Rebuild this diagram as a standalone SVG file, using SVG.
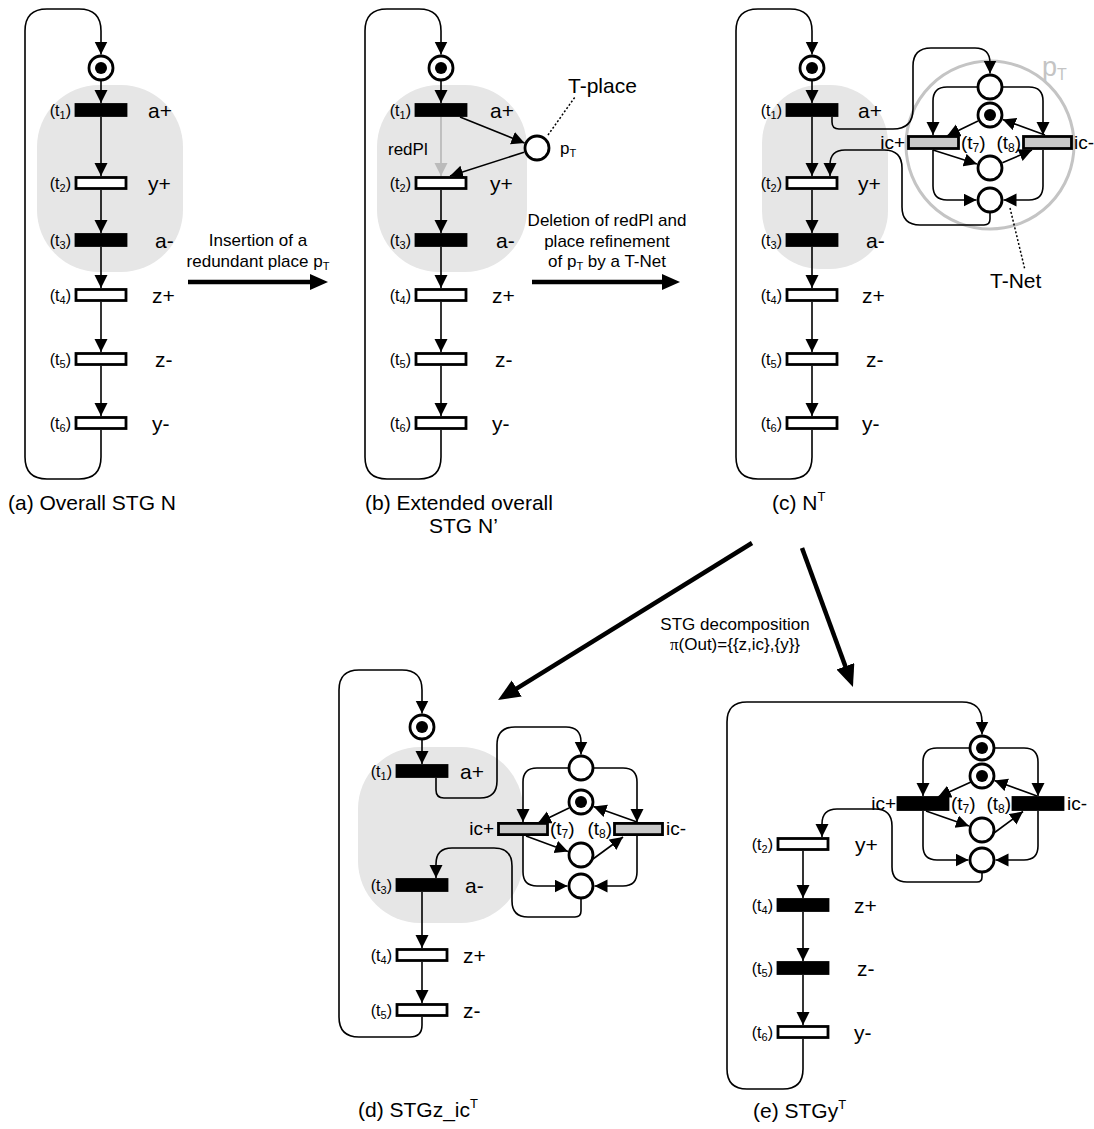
<svg xmlns="http://www.w3.org/2000/svg" width="1094" height="1129" viewBox="0 0 1094 1129">
  <style>
    text { font-family: "Liberation Sans", Arial, sans-serif; fill: #000; }
    .sig { font-size: 21px; }
    .tl { font-size: 16px; }
    .tn { font-size: 19px; }
    .sub { font-size: 11px; }
    .subn { font-size: 12px; }
    .note { font-size: 17px; }
    .cap { font-size: 21px; }
    .blob { fill: #e6e6e6; }
    .arc { fill: none; stroke: #000; stroke-width: 1.6; marker-end: url(#ah); }
    .loop { fill: none; stroke: #000; stroke-width: 1.6; }
    .red { fill: none; stroke: #bbb; stroke-width: 1.8; marker-end: url(#ahg); }
    .dot { fill: none; stroke: #000; stroke-width: 1.5; stroke-dasharray: 2 2; }
    .big { fill: none; stroke: #000; stroke-width: 4.5; marker-end: url(#bh); }
    .big2 { fill: none; stroke: #000; stroke-width: 4.5; marker-end: url(#bh2); }
    .pl { fill: #fff; stroke: #000; stroke-width: 2.8; }
    .tok { fill: #000; }
    .tw { fill: #fff; stroke: #000; stroke-width: 2.8; }
    .tb { fill: #000; stroke: #000; stroke-width: 2.8; }
    .tg { fill: #c8c8c8; stroke: #000; stroke-width: 2.8; }
  </style>
  <defs>
    <marker id="ah" markerUnits="userSpaceOnUse" markerWidth="14" markerHeight="14" refX="13" refY="6.5" orient="auto">
      <path d="M0,0 L13,6.5 L0,13 Z" fill="#000"/>
    </marker>
    <marker id="ahg" markerUnits="userSpaceOnUse" markerWidth="14" markerHeight="14" refX="13" refY="6.5" orient="auto">
      <path d="M0,0 L13,6.5 L0,13 Z" fill="#bbb"/>
    </marker>
    <marker id="bh" markerUnits="userSpaceOnUse" markerWidth="20" markerHeight="18" refX="4" refY="8" orient="auto">
      <path d="M0,0 L18,8 L0,16 Z" fill="#000"/>
    </marker>
    <marker id="bh2" markerUnits="userSpaceOnUse" markerWidth="24" markerHeight="20" refX="5" refY="9.5" orient="auto">
      <path d="M0,0 L22,9.5 L0,19 Z" fill="#000"/>
    </marker>
  </defs>

  <!-- shaded regions behind the a+/a- parts -->
  <g id="regions">
    <rect class="blob" x="37" y="85" width="146" height="187" rx="62"/>
    <rect class="blob" x="377" y="85" width="150" height="187" rx="62"/>
    <rect class="blob" x="762" y="85" width="126" height="184" rx="58"/>
    <rect class="blob" x="358" y="747" width="165" height="176" rx="62"/>
    <circle cx="990" cy="145" r="84" fill="none" stroke="#c4c4c4" stroke-width="3"/>
    <text x="1042" y="76" font-size="27" style="fill:#c4c4c4">p<tspan font-size="16" dy="4" style="fill:#c4c4c4">T</tspan></text>
  </g>

  <g id="connectors">
    <!-- (a) -->
    <path class="loop" d="M101,430 V457 Q101,479 79,479 H47 Q25,479 25,457 V31 Q25,9 47,9 H79 Q101,9 101,31 V40"/>
    <path class="arc" d="M101,40 V54.5"/>
    <path class="arc" d="M101,81 V103"/>
    <path class="arc" d="M101,117 V176"/>
    <path class="arc" d="M101,190 V233"/>
    <path class="arc" d="M101,247 V288"/>
    <path class="arc" d="M101,302 V352"/>
    <path class="arc" d="M101,366 V416"/>

    <!-- (b) -->
    <path class="loop" d="M441,430 V457 Q441,479 419,479 H387 Q365,479 365,457 V31 Q365,9 387,9 H419 Q441,9 441,31 V40"/>
    <path class="arc" d="M441,40 V54.5"/>
    <path class="arc" d="M441,81 V103"/>
    <path class="red" d="M441,117 V176"/>
    <path class="arc" d="M460,117 L524.5,143"/>
    <path class="arc" d="M524,152.3 L450,176"/>
    <path class="arc" d="M441,190 V233"/>
    <path class="arc" d="M441,247 V288"/>
    <path class="arc" d="M441,302 V352"/>
    <path class="arc" d="M441,366 V416"/>
    <path class="dot" d="M548,135 L575,97"/>

    <!-- (c) -->
    <path class="loop" d="M812,430 V457 Q812,479 790,479 H758 Q736,479 736,457 V31 Q736,9 758,9 H790 Q812,9 812,31 V40"/>
    <path class="arc" d="M812,40 V54.5"/>
    <path class="arc" d="M812,81 V103"/>
    <path class="arc" d="M812,117 V176"/>
    <path class="arc" d="M812,190 V233"/>
    <path class="arc" d="M812,247 V288"/>
    <path class="arc" d="M812,302 V352"/>
    <path class="arc" d="M812,366 V416"/>
    <path class="arc" d="M832,117 V122 Q832,129 839,129 H893 Q913,129 913,109 V66 Q913,48 931,48 H975 Q990,48 990,63 V73.5"/>
    <path class="arc" d="M990,212 V219 Q990,225 984,225 H920 Q902,225 902,207 V168 Q902,150 884,150 H845 Q830,150 830,165 V176"/>
    <path class="arc" d="M978,87 H947 Q933,87 933,101 V135"/>
    <path class="arc" d="M1002,87 H1029 Q1043,87 1043,101 V135"/>
    <path class="arc" d="M933,150 V186 Q933,200 947,200 H976.5"/>
    <path class="arc" d="M1043,150 V186 Q1043,200 1029,200 H1003.5"/>
    <path class="arc" d="M978,121 L947,136"/>
    <path class="arc" d="M1045,135 L1002.7,119.6"/>
    <path class="arc" d="M933,150 L977,164"/>
    <path class="arc" d="M1002.4,162.7 L1032,150"/>
    <path class="dot" d="M1010,208 L1025,270"/>

    <!-- (d) -->
    <path class="loop" d="M422,1017 V1025 Q422,1037 410,1037 H359 Q339,1037 339,1017 V690 Q339,670 359,670 H402 Q422,670 422,690 V698"/>
    <path class="arc" d="M422,698 V713.5"/>
    <path class="arc" d="M422,740 V764"/>
    <path class="arc" d="M422,892 V948"/>
    <path class="arc" d="M422,962 V1003"/>
    <path class="arc" d="M436,778 V790 Q436,798 444,798 H480 Q497,798 497,781 V745 Q497,727 515,727 H566 Q581,727 581,742 V754.5"/>
    <path class="arc" d="M581,898 V911 Q581,917 575,917 H528 Q512,917 512,901 V866 Q512,848 494,848 H452 Q436,848 436,864 V878"/>
    <path class="arc" d="M569,768 H537 Q523,768 523,782 V822"/>
    <path class="arc" d="M593,768 H623 Q637,768 637,782 V822"/>
    <path class="arc" d="M523,836 V872 Q523,886 537,886 H567.5"/>
    <path class="arc" d="M637,836 V872 Q637,886 623,886 H594.5"/>
    <path class="arc" d="M569,808 L538,823"/>
    <path class="arc" d="M637,822 L593.5,806.5"/>
    <path class="arc" d="M526,836 L568,851.5"/>
    <path class="arc" d="M593,859 L623,837"/>

    <!-- (e) -->
    <path class="loop" d="M803,1039 V1069 Q803,1089 783,1089 H747 Q727,1089 727,1069 V722 Q727,702 747,702 H962 Q982,702 982,722"/>
    <path class="arc" d="M982,720 V734.5"/>
    <path class="arc" d="M803,851 V898"/>
    <path class="arc" d="M803,912 V961"/>
    <path class="arc" d="M803,975 V1025"/>
    <path class="arc" d="M982,872 V877 Q982,882 977,882 H907 Q892,882 892,867 V826 Q892,809 875,809 H837 Q822,809 822,824 V837"/>
    <path class="arc" d="M970,748 H937 Q923,748 923,762 V796"/>
    <path class="arc" d="M994,748 H1024 Q1038,748 1038,762 V796"/>
    <path class="arc" d="M923,811 V846 Q923,860 937,860 H968.5"/>
    <path class="arc" d="M1038,811 V846 Q1038,860 1024,860 H995.5"/>
    <path class="arc" d="M971,782 L938,797"/>
    <path class="arc" d="M1037,796 L994.5,780.5"/>
    <path class="arc" d="M926,811 L969,826"/>
    <path class="arc" d="M994,833 L1023,811.5"/>

    <!-- transformation arrows -->
    <path class="big" d="M188,282 H314"/>
    <path class="big" d="M532,282 H666"/>
    <path class="big2" d="M752,543 L512.5,691.1"/>
    <path class="big2" d="M802,548 L847.1,671"/>
  </g>

  <!-- (a) overall STG -->
  <g id="a-p0"><circle class="pl" cx="101" cy="68" r="12"/><circle class="tok" cx="101" cy="68" r="6"/></g>
  <g id="a-t1"><rect class="tb" x="76" y="104.5" width="50" height="11"/><text class="tl" x="71" y="116" text-anchor="end">(t<tspan class="sub" dy="3">1</tspan><tspan dy="-3">)</tspan></text><text class="sig" x="148" y="117.5">a+</text></g>
  <g id="a-t2"><rect class="tw" x="76" y="177.5" width="50" height="11"/><text class="tl" x="71" y="189" text-anchor="end">(t<tspan class="sub" dy="3">2</tspan><tspan dy="-3">)</tspan></text><text class="sig" x="148" y="190.5">y+</text></g>
  <g id="a-t3"><rect class="tb" x="76" y="234.5" width="50" height="11"/><text class="tl" x="71" y="246" text-anchor="end">(t<tspan class="sub" dy="3">3</tspan><tspan dy="-3">)</tspan></text><text class="sig" x="155" y="247.5">a-</text></g>
  <g id="a-t4"><rect class="tw" x="76" y="289.5" width="50" height="11"/><text class="tl" x="71" y="301" text-anchor="end">(t<tspan class="sub" dy="3">4</tspan><tspan dy="-3">)</tspan></text><text class="sig" x="152" y="302.5">z+</text></g>
  <g id="a-t5"><rect class="tw" x="76" y="353.5" width="50" height="11"/><text class="tl" x="71" y="365" text-anchor="end">(t<tspan class="sub" dy="3">5</tspan><tspan dy="-3">)</tspan></text><text class="sig" x="155" y="366.5">z-</text></g>
  <g id="a-t6"><rect class="tw" x="76" y="417.5" width="50" height="11"/><text class="tl" x="71" y="429" text-anchor="end">(t<tspan class="sub" dy="3">6</tspan><tspan dy="-3">)</tspan></text><text class="sig" x="152" y="430.5">y-</text></g>
  <text class="cap" x="8" y="510">(a) Overall STG N</text>

  <!-- (b) extended STG with redundant place -->
  <g id="b-p0"><circle class="pl" cx="441" cy="68" r="12"/><circle class="tok" cx="441" cy="68" r="6"/></g>
  <g id="b-t1"><rect class="tb" x="416" y="104.5" width="50" height="11"/><text class="tl" x="411" y="116" text-anchor="end">(t<tspan class="sub" dy="3">1</tspan><tspan dy="-3">)</tspan></text><text class="sig" x="490" y="117.5">a+</text></g>
  <g id="b-t2"><rect class="tw" x="416" y="177.5" width="50" height="11"/><text class="tl" x="411" y="189" text-anchor="end">(t<tspan class="sub" dy="3">2</tspan><tspan dy="-3">)</tspan></text><text class="sig" x="490" y="190.5">y+</text></g>
  <g id="b-t3"><rect class="tb" x="416" y="234.5" width="50" height="11"/><text class="tl" x="411" y="246" text-anchor="end">(t<tspan class="sub" dy="3">3</tspan><tspan dy="-3">)</tspan></text><text class="sig" x="496" y="247.5">a-</text></g>
  <g id="b-t4"><rect class="tw" x="416" y="289.5" width="50" height="11"/><text class="tl" x="411" y="301" text-anchor="end">(t<tspan class="sub" dy="3">4</tspan><tspan dy="-3">)</tspan></text><text class="sig" x="492" y="302.5">z+</text></g>
  <g id="b-t5"><rect class="tw" x="416" y="353.5" width="50" height="11"/><text class="tl" x="411" y="365" text-anchor="end">(t<tspan class="sub" dy="3">5</tspan><tspan dy="-3">)</tspan></text><text class="sig" x="495" y="366.5">z-</text></g>
  <g id="b-t6"><rect class="tw" x="416" y="417.5" width="50" height="11"/><text class="tl" x="411" y="429" text-anchor="end">(t<tspan class="sub" dy="3">6</tspan><tspan dy="-3">)</tspan></text><text class="sig" x="492" y="430.5">y-</text></g>
  <g id="b-pT"><circle class="pl" cx="537" cy="148" r="12"/><text class="note" x="560" y="154">p<tspan class="sub" dy="3">T</tspan></text></g>
  <text class="note" x="388" y="155">redPl</text>
  <text class="sig" x="568" y="93">T-place</text>
  <text class="cap" x="365" y="510">(b) Extended overall</text>
  <text class="cap" x="429" y="533">STG N’</text>

  <!-- (c) refined net N^T -->
  <g id="c-p0"><circle class="pl" cx="812" cy="68" r="12"/><circle class="tok" cx="812" cy="68" r="6"/></g>
  <g id="c-t1"><rect class="tb" x="787" y="104.5" width="50" height="11"/><text class="tl" x="782" y="116" text-anchor="end">(t<tspan class="sub" dy="3">1</tspan><tspan dy="-3">)</tspan></text><text class="sig" x="858" y="117.5">a+</text></g>
  <g id="c-t2"><rect class="tw" x="787" y="177.5" width="50" height="11"/><text class="tl" x="782" y="189" text-anchor="end">(t<tspan class="sub" dy="3">2</tspan><tspan dy="-3">)</tspan></text><text class="sig" x="858" y="190.5">y+</text></g>
  <g id="c-t3"><rect class="tb" x="787" y="234.5" width="50" height="11"/><text class="tl" x="782" y="246" text-anchor="end">(t<tspan class="sub" dy="3">3</tspan><tspan dy="-3">)</tspan></text><text class="sig" x="866" y="247.5">a-</text></g>
  <g id="c-t4"><rect class="tw" x="787" y="289.5" width="50" height="11"/><text class="tl" x="782" y="301" text-anchor="end">(t<tspan class="sub" dy="3">4</tspan><tspan dy="-3">)</tspan></text><text class="sig" x="862" y="302.5">z+</text></g>
  <g id="c-t5"><rect class="tw" x="787" y="353.5" width="50" height="11"/><text class="tl" x="782" y="365" text-anchor="end">(t<tspan class="sub" dy="3">5</tspan><tspan dy="-3">)</tspan></text><text class="sig" x="866" y="366.5">z-</text></g>
  <g id="c-t6"><rect class="tw" x="787" y="417.5" width="50" height="11"/><text class="tl" x="782" y="429" text-anchor="end">(t<tspan class="sub" dy="3">6</tspan><tspan dy="-3">)</tspan></text><text class="sig" x="862" y="430.5">y-</text></g>
  <g id="c-q1"><circle class="pl" cx="990" cy="87" r="12"/></g>
  <g id="c-q2"><circle class="pl" cx="990" cy="115" r="12"/><circle class="tok" cx="990" cy="115" r="6"/></g>
  <g id="c-q3"><circle class="pl" cx="990" cy="168" r="12"/></g>
  <g id="c-q4"><circle class="pl" cx="990" cy="200" r="12"/></g>
  <g id="c-t7"><rect class="tg" x="908.5" y="136.5" width="50" height="12"/><text class="tn" x="905" y="149" text-anchor="end">ic+</text><text class="tn" x="961" y="149">(t<tspan class="subn" dy="3">7</tspan><tspan dy="-3">)</tspan></text></g>
  <g id="c-t8"><rect class="tg" x="1023.5" y="136.5" width="48" height="12"/><text class="tn" x="1021" y="149" text-anchor="end">(t<tspan class="subn" dy="3">8</tspan><tspan dy="-3">)</tspan></text><text class="tn" x="1074" y="149" font-size="18">ic-</text></g>
  <text class="sig" x="990" y="288">T-Net</text>
  <text class="cap" x="772" y="510">(c) N<tspan font-size="13" dy="-9">T</tspan></text>

  <!-- transformation notes -->
  <text class="note" x="258" y="246" text-anchor="middle">Insertion of a</text>
  <text class="note" x="258" y="267" text-anchor="middle">redundant place p<tspan class="sub" dy="3">T</tspan></text>
  <text class="note" x="607" y="226" text-anchor="middle">Deletion of redPl and</text>
  <text class="note" x="607" y="247" text-anchor="middle">place refinement</text>
  <text class="note" x="607" y="267" text-anchor="middle">of p<tspan class="sub" dy="3">T</tspan><tspan dy="-3"> by a T-Net</tspan></text>
  <text class="note" x="735" y="630" text-anchor="middle">STG decomposition</text>
  <text class="note" x="735" y="650" text-anchor="middle"><tspan font-family="'Liberation Serif', serif">π</tspan>(Out)={{z,ic},{y}}</text>

  <!-- (d) component STGz_ic^T -->
  <g id="d-p0"><circle class="pl" cx="422" cy="727" r="12"/><circle class="tok" cx="422" cy="727" r="6"/></g>
  <g id="d-t1"><rect class="tb" x="397" y="765.5" width="50" height="11"/><text class="tl" x="392" y="777" text-anchor="end">(t<tspan class="sub" dy="3">1</tspan><tspan dy="-3">)</tspan></text><text class="sig" x="460" y="778.5">a+</text></g>
  <g id="d-t3"><rect class="tb" x="397" y="879.5" width="50" height="11"/><text class="tl" x="392" y="891" text-anchor="end">(t<tspan class="sub" dy="3">3</tspan><tspan dy="-3">)</tspan></text><text class="sig" x="465" y="892.5">a-</text></g>
  <g id="d-t4"><rect class="tw" x="397" y="949.5" width="50" height="11"/><text class="tl" x="392" y="961" text-anchor="end">(t<tspan class="sub" dy="3">4</tspan><tspan dy="-3">)</tspan></text><text class="sig" x="463" y="962.5">z+</text></g>
  <g id="d-t5"><rect class="tw" x="397" y="1004.5" width="50" height="11"/><text class="tl" x="392" y="1016" text-anchor="end">(t<tspan class="sub" dy="3">5</tspan><tspan dy="-3">)</tspan></text><text class="sig" x="463" y="1017.5">z-</text></g>
  <g id="d-q1"><circle class="pl" cx="581" cy="768" r="12"/></g>
  <g id="d-q2"><circle class="pl" cx="581" cy="802" r="12"/><circle class="tok" cx="581" cy="802" r="6"/></g>
  <g id="d-q3"><circle class="pl" cx="581" cy="855" r="12"/></g>
  <g id="d-q4"><circle class="pl" cx="581" cy="886" r="12"/></g>
  <g id="d-t7"><rect class="tg" x="498.5" y="823.4" width="49" height="11.2"/><text class="tn" x="494" y="835" text-anchor="end">ic+</text><text class="tn" x="550" y="835">(t<tspan class="subn" dy="3">7</tspan><tspan dy="-3">)</tspan></text></g>
  <g id="d-t8"><rect class="tg" x="614.5" y="823.4" width="48" height="11.2"/><text class="tn" x="612" y="835" text-anchor="end">(t<tspan class="subn" dy="3">8</tspan><tspan dy="-3">)</tspan></text><text class="tn" x="666" y="835">ic-</text></g>
  <text class="cap" x="358" y="1117">(d) STGz_ic<tspan font-size="13" dy="-9">T</tspan></text>

  <!-- (e) component STGy^T -->
  <g id="e-t2"><rect class="tw" x="778" y="838.5" width="50" height="11"/><text class="tl" x="773" y="850" text-anchor="end">(t<tspan class="sub" dy="3">2</tspan><tspan dy="-3">)</tspan></text><text class="sig" x="855" y="851.5">y+</text></g>
  <g id="e-t4"><rect class="tb" x="778" y="899.5" width="50" height="11"/><text class="tl" x="773" y="911" text-anchor="end">(t<tspan class="sub" dy="3">4</tspan><tspan dy="-3">)</tspan></text><text class="sig" x="854" y="912.5">z+</text></g>
  <g id="e-t5"><rect class="tb" x="778" y="962.5" width="50" height="11"/><text class="tl" x="773" y="974" text-anchor="end">(t<tspan class="sub" dy="3">5</tspan><tspan dy="-3">)</tspan></text><text class="sig" x="857" y="975.5">z-</text></g>
  <g id="e-t6"><rect class="tw" x="778" y="1026.5" width="50" height="11"/><text class="tl" x="773" y="1038" text-anchor="end">(t<tspan class="sub" dy="3">6</tspan><tspan dy="-3">)</tspan></text><text class="sig" x="854" y="1039.5">y-</text></g>
  <g id="e-q1"><circle class="pl" cx="982" cy="748" r="12"/><circle class="tok" cx="982" cy="748" r="6"/></g>
  <g id="e-q2"><circle class="pl" cx="982" cy="776" r="12"/><circle class="tok" cx="982" cy="776" r="6"/></g>
  <g id="e-q3"><circle class="pl" cx="982" cy="830" r="12"/></g>
  <g id="e-q4"><circle class="pl" cx="982" cy="860" r="12"/></g>
  <g id="e-t7"><rect class="tb" x="898" y="797.5" width="50" height="12"/><text class="tn" x="896" y="810" text-anchor="end">ic+</text><text class="tn" x="951" y="810">(t<tspan class="subn" dy="3">7</tspan><tspan dy="-3">)</tspan></text></g>
  <g id="e-t8"><rect class="tb" x="1013" y="797.5" width="50" height="12"/><text class="tn" x="1011" y="810" text-anchor="end">(t<tspan class="subn" dy="3">8</tspan><tspan dy="-3">)</tspan></text><text class="tn" x="1067" y="810">ic-</text></g>
  <text class="cap" x="753" y="1118">(e) STGy<tspan font-size="13" dy="-9">T</tspan></text>
</svg>
